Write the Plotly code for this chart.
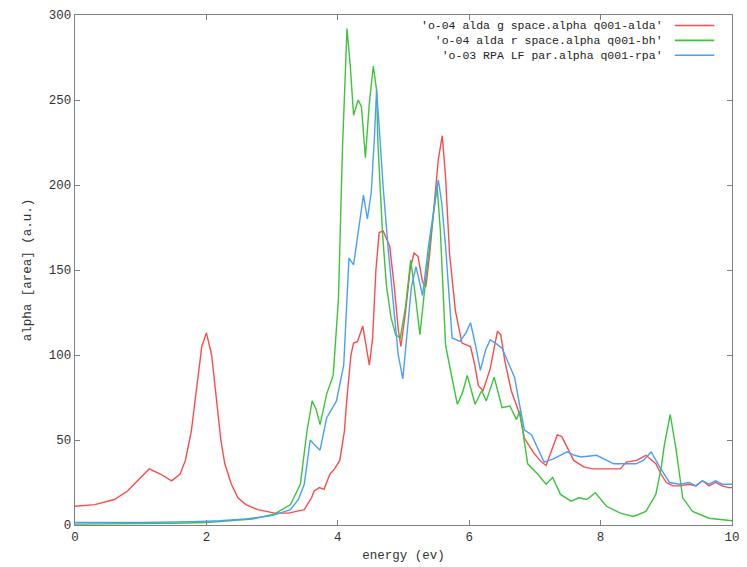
import plotly.graph_objects as go

# energy (eV) / alpha samples for each spectrum
alda_g_x = [0, 0.3, 0.6, 0.8, 1.0, 1.13, 1.3, 1.47, 1.6, 1.68, 1.77, 1.85, 1.93, 2.0, 2.08, 2.15,
            2.22, 2.28, 2.38, 2.48, 2.6, 2.78, 3.04, 3.25, 3.49, 3.6, 3.64, 3.72, 3.79, 3.88, 3.95,
            4.03, 4.1, 4.14, 4.2, 4.24, 4.3, 4.38, 4.43, 4.48, 4.53, 4.58, 4.63, 4.69, 4.79, 4.86,
            4.92, 4.96, 5.03, 5.1, 5.16, 5.22, 5.29, 5.34, 5.4, 5.47, 5.53, 5.59, 5.64, 5.7, 5.79,
            5.89, 6.02, 6.08, 6.14, 6.21, 6.32, 6.43, 6.48, 6.54, 6.64, 6.77, 6.84, 6.99, 7.1, 7.17,
            7.27, 7.34, 7.41, 7.47, 7.59, 7.75, 7.89, 8.1, 8.3, 8.39, 8.55, 8.69, 8.84, 8.92, 9.0,
            9.1, 9.2, 9.35, 9.45, 9.55, 9.65, 9.75, 9.85, 9.95, 10.0]
alda_g_y = [11, 12, 15, 20, 28, 33, 30, 26, 30, 38, 55, 80, 105, 113, 100, 75,
            50, 36, 24, 16, 12, 9, 7, 7, 9, 16, 20, 22, 21, 30, 33,
            38, 55, 75, 100, 107, 108, 117, 105, 94, 110, 150, 172, 173, 164, 140,
            115, 105, 125, 150, 160, 158, 143, 140, 160, 190, 215, 229, 205, 160, 126,
            107, 105, 95, 82, 79, 92, 114, 112, 97, 79, 65, 51, 42, 37, 35,
            45, 53, 52, 47, 38, 34, 33, 33, 33, 37, 38, 41, 36, 30, 25,
            23, 23, 24, 23, 26, 23, 25, 23, 22, 22]

alda_r_x = [0, 1.0, 1.5, 2.0, 2.4, 2.7, 3.04, 3.28, 3.43, 3.53, 3.61, 3.67, 3.73, 3.83, 3.93,
            4.01, 4.07, 4.14, 4.19, 4.24, 4.31, 4.36, 4.42, 4.48, 4.54, 4.59, 4.61, 4.68, 4.74,
            4.81, 4.88, 4.95, 5.03, 5.11, 5.18, 5.25, 5.34, 5.42, 5.51, 5.56, 5.64, 5.72, 5.82,
            5.9, 5.97, 6.09, 6.19, 6.26, 6.38, 6.5, 6.62, 6.72, 6.77, 6.89, 7.04, 7.17, 7.27,
            7.39, 7.55, 7.67, 7.79, 7.92, 8.09, 8.3, 8.5, 8.69, 8.84, 8.92, 8.97, 9.06, 9.15,
            9.25, 9.4, 9.65, 9.95, 10.0]
alda_r_y = [0.5, 0.7, 1, 1.5, 2.5, 3.5, 6.5, 12, 24, 55, 73, 68, 59, 77, 88,
            133, 220, 292, 270, 241, 250, 246, 216, 248, 270, 256, 225, 172, 141,
            122, 112, 110, 128, 156, 135, 112, 145, 170, 200, 174, 106, 90, 71,
            78, 88, 71, 79, 73, 87, 69, 70, 62, 67, 36, 30, 24, 28,
            18, 14, 16, 15, 19, 11, 7, 5, 8, 18, 33, 47, 65, 44,
            16, 8, 4, 3, 2.5]

rpa_x = [0, 1.0, 1.8, 2.2, 2.6, 3.0, 3.28, 3.4, 3.49, 3.55, 3.58, 3.65, 3.73, 3.83, 3.98,
         4.09, 4.14, 4.17, 4.24, 4.33, 4.39, 4.45, 4.51, 4.56, 4.59, 4.63, 4.69, 4.77, 4.84,
         4.92, 4.99, 5.05, 5.12, 5.19, 5.29, 5.38, 5.46, 5.53, 5.58, 5.64, 5.74, 5.86, 5.95,
         6.02, 6.1, 6.17, 6.25, 6.32, 6.4, 6.5, 6.6, 6.69, 6.77, 6.84, 6.95, 7.05, 7.14, 7.29,
         7.49, 7.6, 7.7, 7.94, 8.2, 8.4, 8.54, 8.65, 8.77, 8.9, 9.05, 9.2, 9.35, 9.45, 9.55,
         9.65, 9.75, 9.85, 10.0]
rpa_y = [1.5, 1.5, 2, 2.5, 3.5, 5.5, 9, 15, 24, 40, 50, 47, 44, 63, 73,
         94, 133, 157, 153, 176, 194, 180, 196, 230, 256, 234, 199, 161, 132,
         100, 86, 110, 140, 152, 135, 164, 185, 203, 190, 164, 110, 108, 113,
         119, 105, 91, 103, 109, 107, 104, 95, 87, 70, 56, 53, 44, 37, 39,
         43, 41, 40, 41, 36, 36, 36, 38, 43, 34, 25, 24, 25, 23, 26,
         24, 26, 24, 24]

series = [
    ("'o-04 alda g space.alpha q001-alda'", alda_g_x, alda_g_y, "#ff4a4a"),
    ("'o-04 alda r space.alpha q001-bh'", alda_r_x, alda_r_y, "#3cc43c"),
    ("'o-03 RPA LF par.alpha q001-rpa'", rpa_x, rpa_y, "#4a9eff"),
]

x_ticks = [0, 2, 4, 6, 8, 10]
y_ticks = [0, 50, 100, 150, 200, 250, 300]

FONT = "Liberation Mono"
KEY_SIZE = 11.5
fig = go.Figure()
for name, xs, ys, color in series:
    fig.add_trace(go.Scatter(x=xs, y=ys, mode="lines", name=name,
                             line=dict(color=color, width=1.4), showlegend=False))

# gnuplot-style key: one right-aligned text block, a line sample beside each row
plot_h = 567 - 15 - 39
row_gap = 1.3 * KEY_SIZE / plot_h
key_mid = 0.9503
fig.add_annotation(x=0.898, y=key_mid, xref="paper", yref="paper",
                   text="<br>".join(s[0] for s in series), align="right",
                   showarrow=False, xanchor="right", yanchor="middle",
                   font=dict(family=FONT, size=KEY_SIZE, color="#222"))
for i, (_, _, _, color) in enumerate(series):
    yk = key_mid + (1 - i) * row_gap
    fig.add_shape(type="line", xref="paper", yref="paper", x0=0.913, x1=0.973,
                  y0=yk, y1=yk, line=dict(color=color, width=1.6))

axis_common = dict(showline=True, linecolor="#808080", linewidth=1.3, mirror="ticks",
                   ticks="inside", ticklen=5, tickcolor="#808080", showgrid=False,
                   zeroline=False, tickfont=dict(family=FONT, size=12.5, color="#333"))
fig.update_xaxes(range=[0, 10], tickvals=x_ticks, ticktext=[str(v) for v in x_ticks],
                 title=dict(text="energy (ev)", font=dict(family=FONT, size=12.5, color="#333"),
                            standoff=6),
                 **axis_common)
fig.update_yaxes(range=[0, 300], tickvals=y_ticks, ticktext=[str(v) for v in y_ticks],
                 title=dict(text="alpha [area] (a.u.)", font=dict(family=FONT, size=12.5, color="#333"),
                            standoff=14),
                 **axis_common)
fig.update_layout(width=747, height=567, margin=dict(l=75, r=7, t=15, b=39),
                  plot_bgcolor="white", paper_bgcolor="white")
fig.write_html("out.html")
